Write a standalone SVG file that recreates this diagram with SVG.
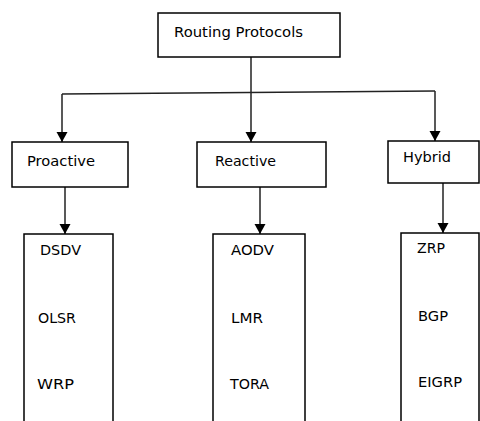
<svg xmlns="http://www.w3.org/2000/svg" width="480" height="421" viewBox="0 0 480 421">
<style>
.box{fill:#fff;stroke:#000;stroke-width:1.5}
.lbl{font-family:"DejaVu Sans","Liberation Sans",sans-serif;font-size:13.5px;fill:#000}
.ln{fill:none;stroke:#222;stroke-width:1.5}
</style>
<defs>
<marker id="ad" markerUnits="userSpaceOnUse" markerWidth="12" markerHeight="12" refX="10" refY="6" orient="auto" viewBox="0 0 11 12">
<path d="M0,0.5 L10,6 L0,11.5 Z" fill="#000"/>
</marker>
</defs>
<rect width="480" height="421" fill="#fff"/>
<g id="connectors">
<path class="ln" d="M251,57 V142" marker-end="url(#ad)"/>
<path class="ln" d="M62,94 L435,91"/>
<path class="ln" d="M62,94 V142" marker-end="url(#ad)"/>
<path class="ln" d="M435,91 V141" marker-end="url(#ad)"/>
<path class="ln" d="M65,187 V234" marker-end="url(#ad)"/>
<path class="ln" d="M260,187 V234" marker-end="url(#ad)"/>
<path class="ln" d="M443,183 V233" marker-end="url(#ad)"/>
</g>
<g id="root">
<rect class="box" x="158" y="13" width="182" height="44"/>
<text class="lbl" x="174" y="37" textLength="129" lengthAdjust="spacingAndGlyphs">Routing Protocols</text>
</g>
<g id="proactive">
<rect class="box" x="12" y="142" width="116" height="45"/>
<text class="lbl" x="27" y="166" textLength="68" lengthAdjust="spacingAndGlyphs">Proactive</text>
</g>
<g id="reactive">
<rect class="box" x="197" y="142" width="129" height="45"/>
<text class="lbl" x="215" y="166" textLength="61" lengthAdjust="spacingAndGlyphs">Reactive</text>
</g>
<g id="hybrid">
<rect class="box" x="388" y="141" width="91" height="42"/>
<text class="lbl" x="403" y="162" textLength="48" lengthAdjust="spacingAndGlyphs">Hybrid</text>
</g>
<g id="proactive-list">
<path class="box" d="M24,422 V234 H113 V422"/>
<text class="lbl" x="40" y="255" textLength="41" lengthAdjust="spacingAndGlyphs">DSDV</text>
<text class="lbl" x="38" y="323" textLength="38" lengthAdjust="spacingAndGlyphs">OLSR</text>
<text class="lbl" x="37" y="389" textLength="37" lengthAdjust="spacingAndGlyphs">WRP</text>
</g>
<g id="reactive-list">
<path class="box" d="M213,422 V234 H305 V422"/>
<text class="lbl" x="231" y="255" textLength="43" lengthAdjust="spacingAndGlyphs">AODV</text>
<text class="lbl" x="231" y="323" textLength="32" lengthAdjust="spacingAndGlyphs">LMR</text>
<text class="lbl" x="230" y="389" textLength="39" lengthAdjust="spacingAndGlyphs">TORA</text>
</g>
<g id="hybrid-list">
<path class="box" d="M401,422 V233 H479 V422"/>
<text class="lbl" x="417" y="253" textLength="28" lengthAdjust="spacingAndGlyphs">ZRP</text>
<text class="lbl" x="418" y="321" textLength="30" lengthAdjust="spacingAndGlyphs">BGP</text>
<text class="lbl" x="418" y="387" textLength="44" lengthAdjust="spacingAndGlyphs">EIGRP</text>
</g>
</svg>
